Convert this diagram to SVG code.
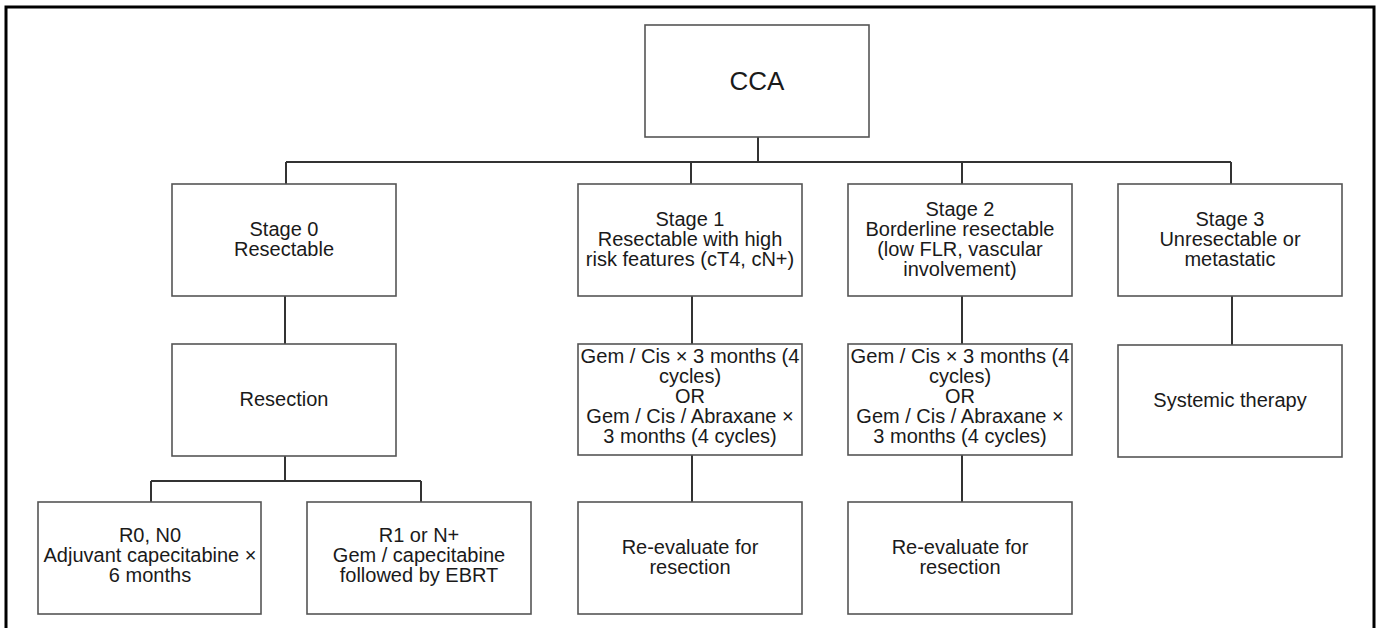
<svg xmlns="http://www.w3.org/2000/svg" width="1378" height="628" viewBox="0 0 1378 628">
<style>
.box{fill:#fff;stroke:#555;stroke-width:1.6}
.con{fill:none;stroke:#333;stroke-width:2}
.t{font-family:"Liberation Sans",Arial,sans-serif;font-size:20px;fill:#1a1a1a;text-anchor:middle}
.big{font-size:26px}
</style>
<rect width="1378" height="628" fill="#fff"/>
<path d="M6,628 V7 H1374 V628" fill="none" stroke="#000" stroke-width="3"/>
<g id="connectors">
<path class="con" d="M758,137 V162 M286,162 H1231 M286,162 V184 M691,162 V184 M962,162 V184 M1231,162 V184"/>
<path class="con" d="M285,296 V344 M285,456 V481 M151,481 H421 M151,481 V502 M421,481 V502"/>
<path class="con" d="M692,296 V344 M692,455 V502"/>
<path class="con" d="M962,296 V344 M962,455 V502"/>
<path class="con" d="M1232,296 V345"/>
</g>
<g id="cca">
<rect class="box" x="645" y="25" width="224" height="112"/>
<text class="t big" x="757" y="90">CCA</text>
</g>
<g id="stage0">
<rect class="box" x="172" y="184" width="224" height="112"/>
<text class="t" x="284" y="236">Stage 0</text>
<text class="t" x="284" y="256">Resectable</text>
</g>
<g id="stage1">
<rect class="box" x="578" y="184" width="224" height="112"/>
<text class="t" x="690" y="226">Stage 1</text>
<text class="t" x="690" y="246">Resectable with high</text>
<text class="t" x="690" y="266">risk features (cT4, cN+)</text>
</g>
<g id="stage2">
<rect class="box" x="848" y="184" width="224" height="112"/>
<text class="t" x="960" y="216">Stage 2</text>
<text class="t" x="960" y="236">Borderline resectable</text>
<text class="t" x="960" y="256">(low FLR, vascular</text>
<text class="t" x="960" y="276">involvement)</text>
</g>
<g id="stage3">
<rect class="box" x="1118" y="184" width="224" height="112"/>
<text class="t" x="1230" y="226">Stage 3</text>
<text class="t" x="1230" y="246">Unresectable or</text>
<text class="t" x="1230" y="266">metastatic</text>
</g>
<g id="resection">
<rect class="box" x="172" y="344" width="224" height="112"/>
<text class="t" x="284" y="406">Resection</text>
</g>
<g id="chemo1">
<rect class="box" x="578" y="344" width="224" height="111"/>
<text class="t" x="690" y="363" textLength="219" lengthAdjust="spacingAndGlyphs">Gem / Cis × 3 months (4</text>
<text class="t" x="690" y="383">cycles)</text>
<text class="t" x="690" y="403">OR</text>
<text class="t" x="690" y="423">Gem / Cis / Abraxane ×</text>
<text class="t" x="690" y="443">3 months (4 cycles)</text>
</g>
<g id="chemo2">
<rect class="box" x="848" y="344" width="224" height="111"/>
<text class="t" x="960" y="363" textLength="219" lengthAdjust="spacingAndGlyphs">Gem / Cis × 3 months (4</text>
<text class="t" x="960" y="383">cycles)</text>
<text class="t" x="960" y="403">OR</text>
<text class="t" x="960" y="423">Gem / Cis / Abraxane ×</text>
<text class="t" x="960" y="443">3 months (4 cycles)</text>
</g>
<g id="systemic">
<rect class="box" x="1118" y="345" width="224" height="112"/>
<text class="t" x="1230" y="407">Systemic therapy</text>
</g>
<g id="r0n0">
<rect class="box" x="38" y="502" width="223" height="112"/>
<text class="t" x="150" y="542">R0, N0</text>
<text class="t" x="150" y="562">Adjuvant capecitabine ×</text>
<text class="t" x="150" y="582">6 months</text>
</g>
<g id="r1n">
<rect class="box" x="307" y="502" width="224" height="112"/>
<text class="t" x="419" y="542">R1 or N+</text>
<text class="t" x="419" y="562">Gem / capecitabine</text>
<text class="t" x="419" y="582">followed by EBRT</text>
</g>
<g id="reeval1">
<rect class="box" x="578" y="502" width="224" height="112"/>
<text class="t" x="690" y="554">Re-evaluate for</text>
<text class="t" x="690" y="574">resection</text>
</g>
<g id="reeval2">
<rect class="box" x="848" y="502" width="224" height="112"/>
<text class="t" x="960" y="554">Re-evaluate for</text>
<text class="t" x="960" y="574">resection</text>
</g>
</svg>
